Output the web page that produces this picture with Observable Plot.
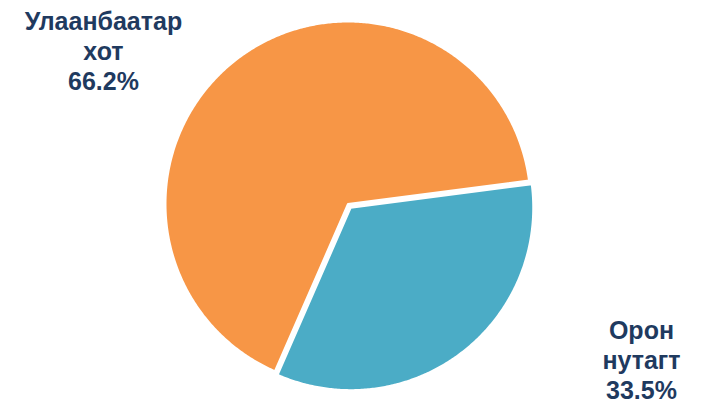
<!DOCTYPE html>
<html>
<head>
<meta charset="utf-8">
<script src="https://cdn.jsdelivr.net/npm/d3@7"></script>
<script src="https://cdn.jsdelivr.net/npm/@observablehq/plot@0.6"></script>
<style>
  html, body { margin: 0; padding: 0; background: #ffffff; }
  #chart svg { display: block; }
</style>
</head>
<body>
<div id="chart"></div>
<script>
// ---- data ----
const categories = ["Улаанбаатар хот", "Орон нутагт"];
const values = [66.2, 33.5];
const labelLines = [["Улаанбаатар", "хот", "66.2%"], ["Орон", "нутагт", "33.5%"]];

// ---- style / layout ----
const colors = ["#F79646", "#4BACC6"];
const explode = [0, 0.025];            // radial offset as fraction of radius
const startDeg = 203.6;                // rotation of first slice (clockwise from 12 o'clock)
const W = 704, H = 411;
const cx = 347.5, cy = 203.5, R = 182.5; // pie centre & radius in pixels
const labelPos = [[-1.34, 0.84], [1.608, -0.852]]; // label centres in radius units

const pie = d3.pie().sort(null).value(d => d.value).startAngle(startDeg * Math.PI / 180).endAngle(startDeg * Math.PI / 180 + 2 * Math.PI);
const slices = pie(categories.map((c, i) => ({name: c, value: values[i], i})));

// polygon outline of each slice, in radius units (y up)
const pts = [];
for (const s of slices) {
  const i = s.data.i;
  const mid = (s.startAngle + s.endAngle) / 2;
  const ox = explode[i] * Math.sin(mid), oy = explode[i] * Math.cos(mid);
  pts.push({name: s.data.name, x: ox, y: oy});
  const n = Math.max(2, Math.ceil((s.endAngle - s.startAngle) / (Math.PI / 360)));
  for (let k = 0; k <= n; k++) {
    const a = s.startAngle + (s.endAngle - s.startAngle) * k / n;
    pts.push({name: s.data.name, x: ox + Math.sin(a), y: oy + Math.cos(a)});
  }
}

const labels = categories.map((c, i) => ({name: c, text: labelLines[i].join("\n"), x: labelPos[i][0], y: labelPos[i][1]}));

const chart = Plot.plot({
  width: W, height: H,
  margin: 0,
  x: {domain: [-cx / R, (W - cx) / R], axis: null},
  y: {domain: [-(H - cy) / R, cy / R], axis: null},
  color: {domain: categories, range: colors},
  style: {fontFamily: "'Liberation Sans', Arial, sans-serif", background: "#ffffff"},
  marks: [
    Plot.line(pts, {x: "x", y: "y", z: "name", fill: "name", stroke: "#ffffff", strokeWidth: 2, curve: "linear-closed"}),
    Plot.text(labels, {x: "x", y: "y", text: "text", fontSize: 25, fontWeight: "bold", fill: "#1F3A5F", lineHeight: 1.2, textAnchor: "middle"})
  ]
});
document.getElementById("chart").appendChild(chart);
</script>
</body>
</html>
